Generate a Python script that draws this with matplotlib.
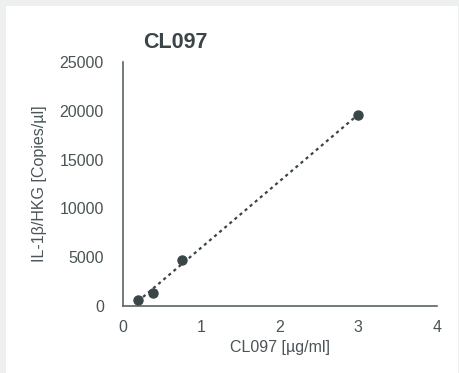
import numpy as np
import matplotlib.pyplot as plt
from matplotlib.patches import Rectangle

plt.rcParams['font.family'] = ['Liberation Sans', 'DejaVu Sans']

# data
conc = [0.1875, 0.375, 0.75, 3.0]
copies = [560, 1270, 4700, 19600]
xticks = [0, 1, 2, 3, 4]
yticks = [0, 5000, 10000, 15000, 20000, 25000]

dark = '#3a4548'
text_col = '#4a5456'

fig = plt.figure(figsize=(4.59, 3.73), dpi=100)
fig.patch.set_facecolor('#eef0ef')
fig.add_artist(Rectangle((6 / 459, 0), 452 / 459, 367 / 373,
                         transform=fig.transFigure, facecolor='white',
                         edgecolor='none', zorder=0))

ax = fig.add_axes([123.3 / 459, 1 - 305.7 / 373, 313.4 / 459, 243.4 / 373])
ax.set_facecolor('none')

# linear trendline
k, b = np.polyfit(conc, copies, 1)
xs = np.array([min(conc), max(conc)])
ax.plot(xs, k * xs + b, linestyle=(0, (1.4, 1.6)), color=dark, lw=1.6)
ax.plot(conc, copies, 'o', color=dark, markersize=6.5, zorder=3)

ax.set_xlim(0, 4)
ax.set_ylim(0, 25000)
ax.set_xticks(xticks)
ax.set_yticks(yticks)
ax.tick_params(length=0, labelsize=11.5, colors=text_col)
ax.tick_params(axis='x', pad=10)
ax.tick_params(axis='y', pad=14)
for s in ['top', 'right']:
    ax.spines[s].set_visible(False)
for s in ['left', 'bottom']:
    ax.spines[s].set_color('#5a6466')
    ax.spines[s].set_linewidth(1.2)

ax.set_xlabel('CL097 [µg/ml]', fontsize=11.5, color=text_col, labelpad=4)
ax.set_ylabel('IL-1β/HKG [Copies/µl]', fontsize=11.5, color=text_col, labelpad=9)
fig.text(175 / 459, 1 - 43 / 373, 'CL097', fontsize=15.5, fontweight='bold',
         color=dark, ha='center', va='center')

fig.savefig('out.png', dpi=100, facecolor=fig.get_facecolor())
